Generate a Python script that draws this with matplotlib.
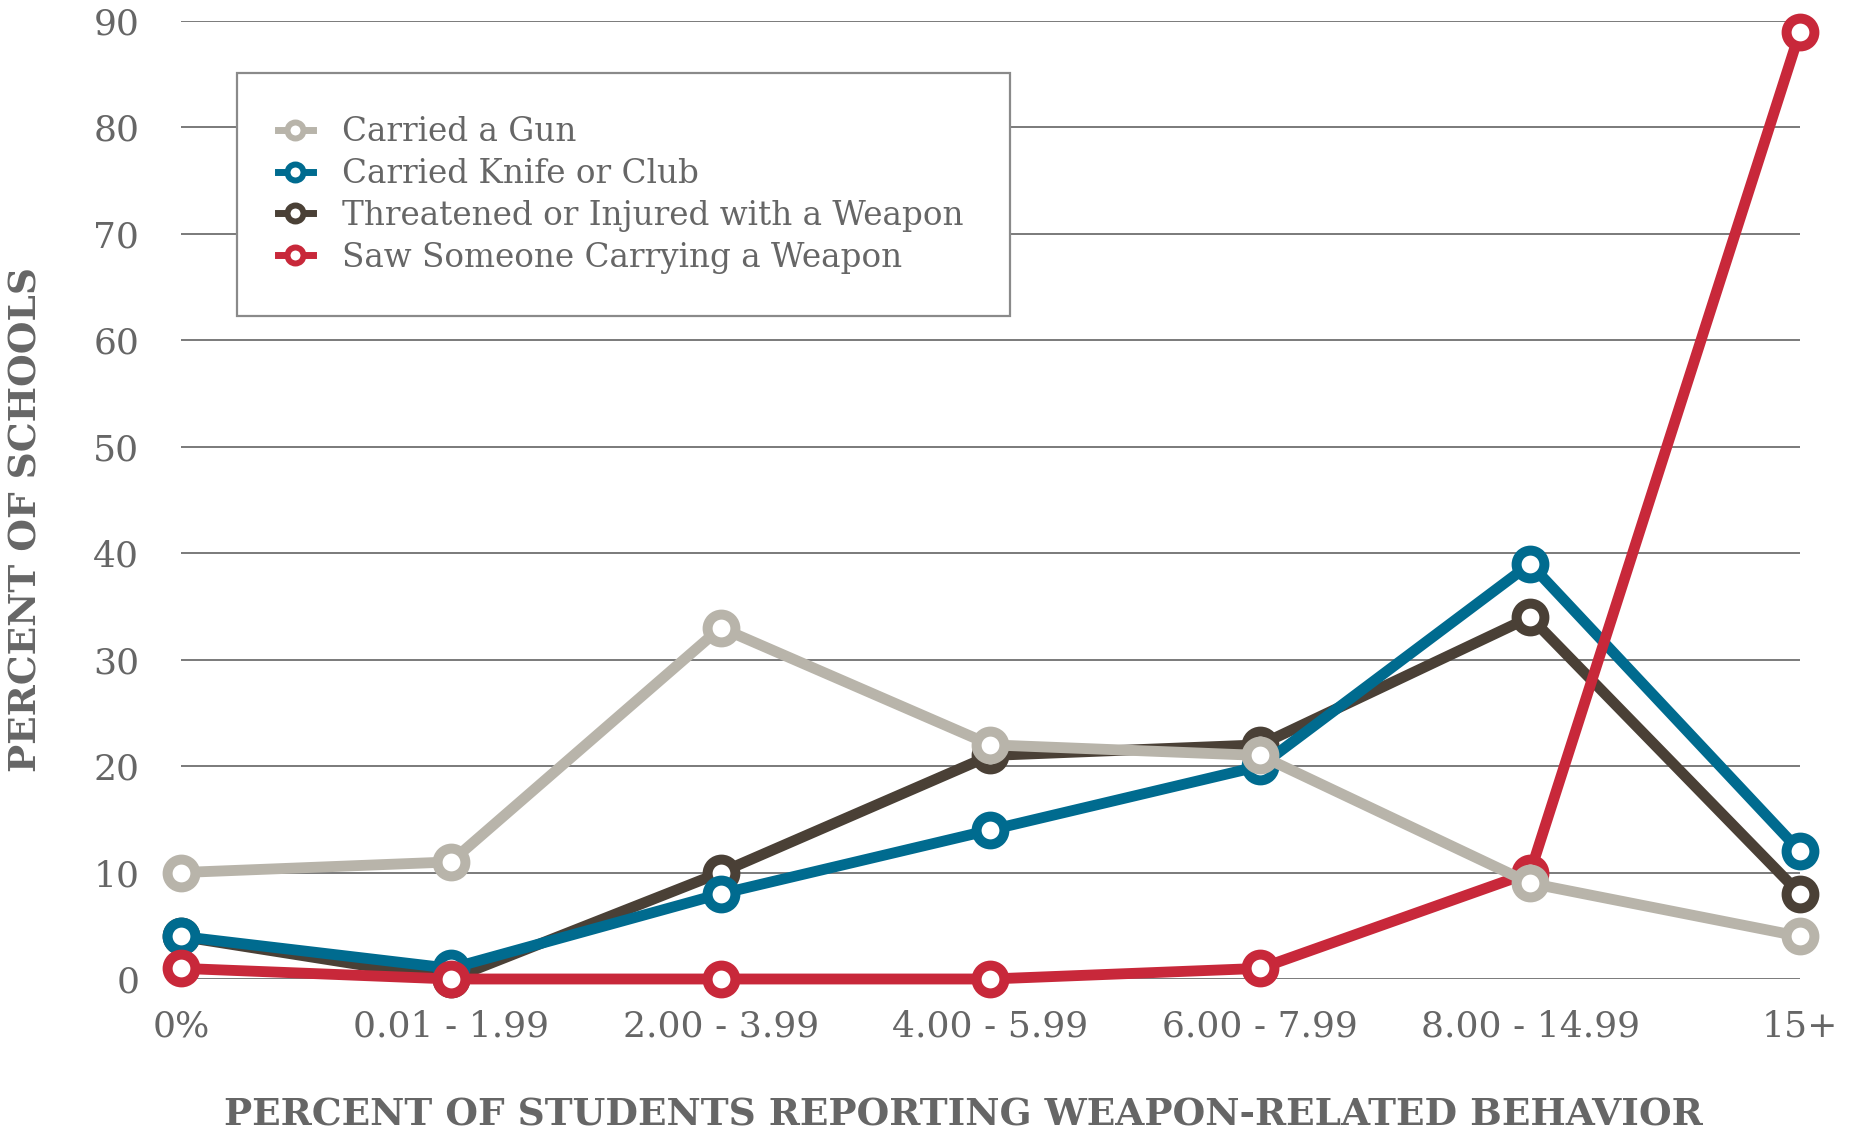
import matplotlib
matplotlib.use("Agg")
import matplotlib.pyplot as plt
from matplotlib.lines import Line2D
from matplotlib.patches import Rectangle

# Categories: share of students reporting the behaviour
categories = ["0%", "0.01 - 1.99", "2.00 - 3.99", "4.00 - 5.99",
              "6.00 - 7.99", "8.00 - 14.99", "15+"]

# Percent of schools in each category
carried_gun = [10, 11, 33, 22, 21, 9, 4]
carried_knife = [4, 1, 8, 14, 20, 39, 12]
threatened = [4, 0, 10, 21, 22, 34, 8]
saw_weapon = [1, 0, 0, 0, 1, 10, 89]

series_labels = ["Carried a Gun", "Carried Knife or Club",
                 "Threatened or Injured with a Weapon",
                 "Saw Someone Carrying a Weapon"]
y_ticks = [0, 10, 20, 30, 40, 50, 60, 70, 80, 90]

GRAY = "#b8b4aa"
BLUE = "#006b8f"
DARK = "#4a4036"
RED = "#c8283a"
TEXT = "#666666"
FONT = "DejaVu Serif"

W, H = 1856, 1131
fig = plt.figure(figsize=(W / 100, H / 100), dpi=100)
ax = fig.add_axes([181 / W, 1 - 979 / H, (1800 - 181) / W, (979 - 21) / H])

x = list(range(len(categories)))

# draw order: threatened, knife, saw, gun (gun on top)
styles = [
    (threatened, DARK, 3),
    (carried_knife, BLUE, 4),
    (saw_weapon, RED, 5),
    (carried_gun, GRAY, 6),
]
for vals, col, z in styles:
    ax.plot(x, vals, color=col, lw=7.8, marker="o", ms=20, mew=7.2,
            mfc="white", mec=col, zorder=z, clip_on=False,
            solid_joinstyle="round")

ax.set_xlim(0, 6)
ax.set_ylim(0, 90)
ax.set_yticks(y_ticks)
ax.set_yticklabels([str(v) for v in y_ticks])
ax.set_xticks(x)
ax.set_xticklabels(categories)
ax.grid(axis="y", color="#7a7a7a", lw=1.4, zorder=0)
ax.set_axisbelow(True)
for s in ax.spines.values():
    s.set_visible(False)
ax.tick_params(axis="both", length=0, colors=TEXT, labelsize=26)
ax.tick_params(axis="y", pad=30)
ax.tick_params(axis="x", pad=22)
for lab in ax.get_xticklabels() + ax.get_yticklabels():
    lab.set_fontfamily(FONT)

fig.text(26 / W, 1 - 520 / H, "PERCENT OF SCHOOLS", rotation=90,
         ha="center", va="center", fontsize=27, fontweight="bold",
         color=TEXT, family=FONT)
fig.text(963 / W, 1 - 1115 / H,
         "PERCENT OF STUDENTS REPORTING WEAPON-RELATED BEHAVIOR",
         ha="center", va="center", fontsize=27, fontweight="bold",
         color=TEXT, family=FONT)

# legend box
box = Rectangle((237 / W, 1 - 316 / H), (1010 - 237) / W, (316 - 73) / H,
                transform=fig.transFigure, facecolor="white",
                edgecolor="#8a8a8a", lw=1.6, zorder=10)
fig.patches.append(box)

handles = [Line2D([], [], color=c, lw=5, marker="o", ms=11.5, mew=4.3,
                  mfc="white", mec=c)
           for c in (GRAY, BLUE, DARK, RED)]
leg = fig.legend(handles, series_labels, loc="upper left",
                 bbox_to_anchor=(262 / W, 1 - 100 / H),
                 frameon=False, handlelength=1.05, handletextpad=0.9,
                 labelspacing=0.3, borderpad=0,
                 prop={"family": FONT, "size": 23.5})
for t in leg.get_texts():
    t.set_color(TEXT)
leg.set_zorder(11)

fig.savefig("out.png", dpi=100)
